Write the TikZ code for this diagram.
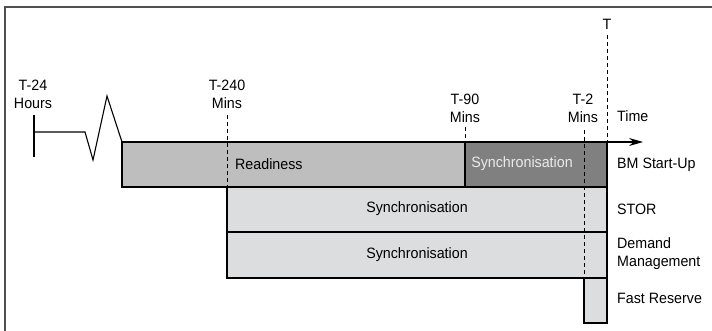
\documentclass[tikz,border=0pt]{standalone}
\usepackage{fontspec}
\setmainfont[FakeStretch=0.95]{Liberation Sans}
\usetikzlibrary{arrows.meta,positioning}
\definecolor{readycolor}{RGB}{190,190,190}
\definecolor{synccolor}{RGB}{128,128,128}
\definecolor{servicecolor}{RGB}{220,221,223}
\definecolor{framecolor}{RGB}{80,80,80}
\tikzset{
  phase box/.style={
    draw=black,
    line width=1.1pt
  },
  tick label/.style={
    align=center,
    inner sep=0pt,
    font=\fontsize{15}{18}\selectfont
  },
  row label/.style={
    anchor=west,
    align=left,
    inner sep=0pt,
    font=\fontsize{15}{18}\selectfont
  },
  box label/.style={
    inner sep=0pt,
    font=\fontsize{15}{18}\selectfont
  },
  marker/.style={
    line width=1pt,
    dash pattern=on 4pt off 3pt
  },
  arrow/.style={
    -{Stealth[length=14pt,width=8pt]},
    line width=1.1pt
  }
}

\begin{document}
\begin{tikzpicture}[x=1pt, y=-1pt]

  \useasboundingbox (0,0) rectangle (712,331);

  % Frame
  \draw[framecolor, line width=2pt] (5,340) -- (5,7) -- (720,7);

  % Phase boxes
  \fill[readycolor] (122,142) rectangle (465,187);
  \fill[synccolor] (465,142) rectangle (607,187);
  \fill[servicecolor] (227,187) rectangle (607,232);
  \fill[servicecolor] (227,232) rectangle (607,278);
  \fill[servicecolor] (584,278) rectangle (607,323);
  \draw[phase box] (122,142) rectangle (607,187);
  \draw[phase box] (465,142) -- (465,187);
  \draw[phase box] (227,187) rectangle (607,232);
  \draw[phase box] (227,232) rectangle (607,278);
  \draw[phase box] (584,278) rectangle (607,323);

  % Time points
  \coordinate (t24) at (34,132);
  \coordinate (t24top) at (34,115);
  \coordinate (t24bot) at (34,157);
  \coordinate (z1) at (85,132);
  \coordinate (z2) at (93,160);
  \coordinate (z3) at (107,96);
  \coordinate (start) at (122,142);
  \coordinate (t240top) at (227,115);
  \coordinate (t240bot) at (227,187);
  \coordinate (t90top) at (465,127);
  \coordinate (t90bot) at (465,142);
  \coordinate (t2top) at (584,130);
  \coordinate (t2bot) at (584,278);
  \coordinate (ttop) at (607,35);
  \coordinate (tbot) at (607,142);
  \coordinate (tip) at (643,142);

  % Time line
  \draw[line width=1.1pt] (t24top) -- (t24bot);
  \draw[line width=1.1pt] (t24) -- (z1) -- (z2) -- (z3) -- (start);
  \draw[arrow] (tbot) -- (tip);

  % Dashed markers
  \draw[marker] (t240top) -- (t240bot);
  \draw[marker] (t90top) -- (t90bot);
  \draw[marker] (t2top) -- (t2bot);
  \draw[marker] (ttop) -- (tbot);

  % Time labels
  \node[tick label] (lt24) at (33,94) {T-24\\Hours};
  \node[tick label] (lt240) at (227,94) {T-240\\Mins};
  \node[tick label] (lt90) at (465,108) {T-90\\Mins};
  \node[tick label] (lt2) at (583,108) {T-2\\Mins};
  \node[tick label] (lt) at (607,24) {T};

  % Row labels
  \node[row label] (time) at (617,116) {Time};
  \node[row label] (bm) at (617,165) {BM Start-Up};
  \node[row label] (stor) at (617,209) {STOR};
  \node[row label] (demand) at (617,254) {Demand\\Management};
  \node[row label] (fast) at (617,298) {Fast Reserve};

  % Box labels
  \node[box label, anchor=west] (ready) at (235,164) {Readiness};
  \node[box label, white!92!black] (syncbm) at (522,164) {Synchronisation};
  \node[box label] (syncstor) at (417,209) {Synchronisation};
  \node[box label] (syncdm) at (417,255) {Synchronisation};

\end{tikzpicture}
\end{document}
